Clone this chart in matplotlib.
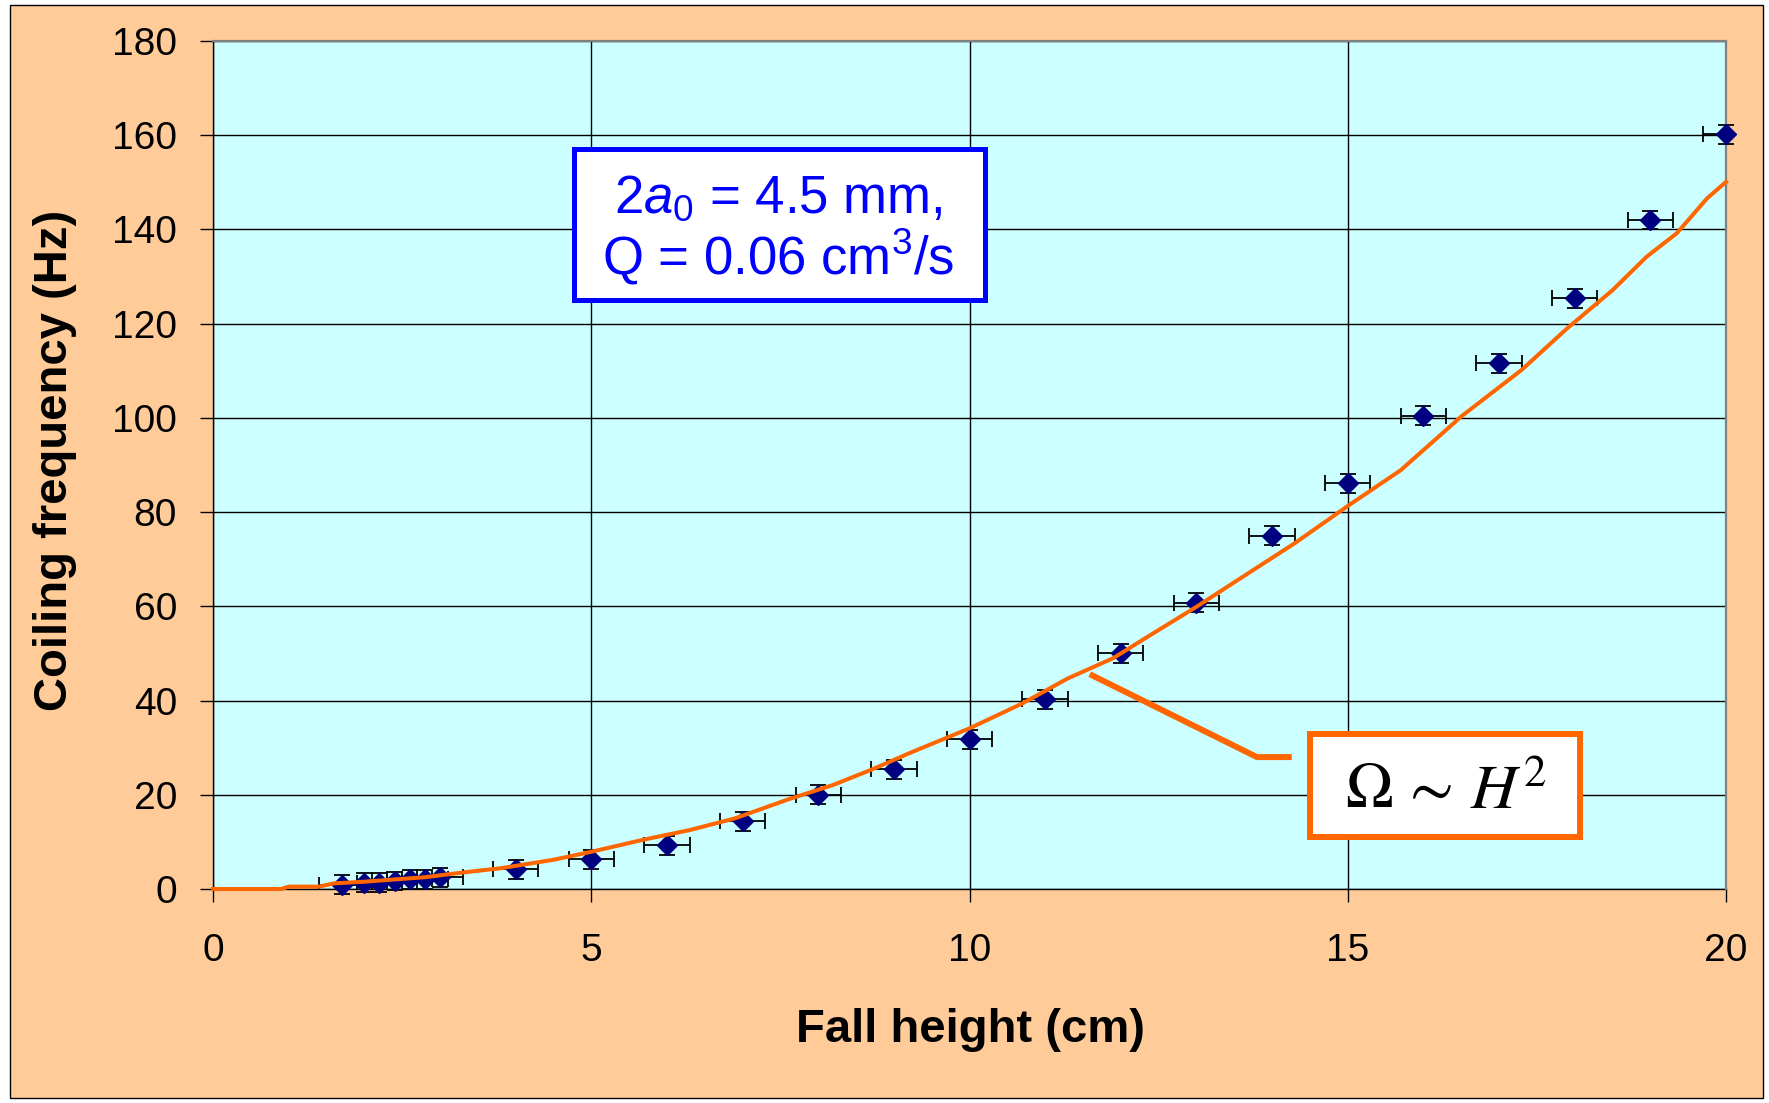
import matplotlib
matplotlib.use('Agg')
import matplotlib.pyplot as plt
from matplotlib.patches import Rectangle

plt.rcParams['font.family'] = ['Liberation Sans', 'DejaVu Sans']
plt.rcParams['mathtext.fontset'] = 'custom'
plt.rcParams['mathtext.rm'] = 'Liberation Sans'
plt.rcParams['mathtext.it'] = 'Liberation Sans:italic'
plt.rcParams['mathtext.bf'] = 'Liberation Sans:bold'

# measured coiling frequency vs fall height
height = [1.7, 2.0, 2.2, 2.4, 2.6, 2.8, 3.0, 4, 5, 6, 7, 8, 9, 10,
          11, 12, 13, 14, 15, 16, 17, 18, 19, 20]
freq = [0.9, 1.3, 1.3, 1.7, 2.1, 2.1, 2.5, 4.2, 6.3, 9.3, 14.4, 20.0, 25.4, 31.8,
        40.3, 50.0, 60.8, 75.0, 86.1, 100.5, 111.6, 125.4, 142.0, 160.2]
height_err = 0.3
freq_err = 2.0

# model curve
model_h = [0, 0.9, 1.0, 1.4, 1.6, 2.0, 2.8, 3.3, 3.8, 4.5, 5.0, 5.7, 6.3, 6.9,
           7.6, 8.2, 8.7, 9.2, 10.0, 10.7, 11.3, 11.9, 12.3, 13.0, 13.75, 14.3,
           15.0, 15.7, 16.2, 16.5, 17.3, 17.9, 18.5, 18.95, 19.35, 19.75, 20.0]
model_f = [0, 0, 0.5, 0.5, 1.2, 1.55, 2.5, 3.5, 4.4, 6.2, 7.9, 10.5, 12.5, 15.0,
           19.0, 22.1, 25.3, 28.8, 34.1, 39.4, 44.7, 49.0, 53.0, 59.9, 67.7, 73.4,
           81.3, 88.9, 96.0, 100.3, 110.2, 119.0, 127.1, 134.2, 139.2, 146.6, 150.1]

xticks = [0, 5, 10, 15, 20]
yticks = list(range(0, 181, 20))

W, H = 1769, 1103
fig = plt.figure(figsize=(W / 100, H / 100), dpi=100, facecolor='white')
fig.add_artist(Rectangle((10 / W, 5 / H), 1753 / W, 1093 / H, transform=fig.transFigure,
                         facecolor='#FFCC99', edgecolor='black', lw=1.0, zorder=-5))

ax = fig.add_axes([213 / W, 1 - 889 / H, 1513 / W, 848 / H])
ax.set_facecolor('#CCFFFF')
ax.set_xlim(0, 20)
ax.set_ylim(0, 180)
ax.set_xticks(xticks)
ax.set_yticks(yticks)
ax.grid(True, color='black', lw=1.0)
ax.set_axisbelow(True)
for s in ['left', 'bottom']:
    ax.spines[s].set_color('black')
    ax.spines[s].set_linewidth(1.0)
for s in ['top', 'right']:
    ax.spines[s].set_color('#808080')
    ax.spines[s].set_linewidth(1.6)
    ax.spines[s].set_zorder(3)
ax.tick_params(axis='both', direction='out', length=9.4, width=1.0, labelsize=28)
ax.tick_params(axis='y', pad=16.5)
ax.tick_params(axis='x', pad=22)

eb = ax.errorbar(height, freq, xerr=height_err, yerr=freq_err, fmt='D',
                 color='#000080', markersize=9.8, markeredgecolor='#000080',
                 ecolor='black', elinewidth=1.3, capsize=5.5, capthick=1.3,
                 clip_on=False, zorder=4)
# horizontal bars stay inside the plot area
eb[2][0].set_clip_on(True)
for cap in eb[1][:2]:
    cap.set_clip_on(True)

ax.plot(model_h, model_f, color='#FF6600', lw=2.9, zorder=5, clip_on=False)

# parameter box
ax.add_patch(Rectangle((4.77, 125.1), 5.44, 32.0, facecolor='white',
                       edgecolor='#0000FF', lw=3.6, zorder=6))
ax.text(7.47, 143.6, r'2$a_0$ = 4.5 mm,', color='#0000FF', fontsize=38,
        ha='center', va='baseline', zorder=7)
ax.text(7.47, 130.5, r'Q = 0.06 cm$^3$/s', color='#0000FF', fontsize=38,
        ha='center', va='baseline', zorder=7)

# scaling label with leader
ax.plot([11.59, 13.80, 14.26], [45.6, 28.0, 28.0], color='#FF6600', lw=4.3,
        solid_capstyle='butt', solid_joinstyle='miter', zorder=6)
ax.add_patch(Rectangle((14.50, 11.0), 3.57, 21.9, facecolor='white',
                       edgecolor='#FF6600', lw=4.3, zorder=6))
ax.text(16.29, 17.0, r'$\Omega\,\sim\,H^2$', fontsize=46, math_fontfamily='stix',
        ha='center', va='baseline', color='black', zorder=7)

fig.text(970 / W, 1 - 1030 / H, 'Fall height (cm)', fontsize=34, fontweight='bold',
         ha='center', va='center')
fig.text(55 / W, 1 - 460 / H, 'Coiling frequency (Hz)', fontsize=34, fontweight='bold',
         ha='center', va='center', rotation=90)

fig.savefig('out.png', dpi=100, facecolor=fig.get_facecolor())
